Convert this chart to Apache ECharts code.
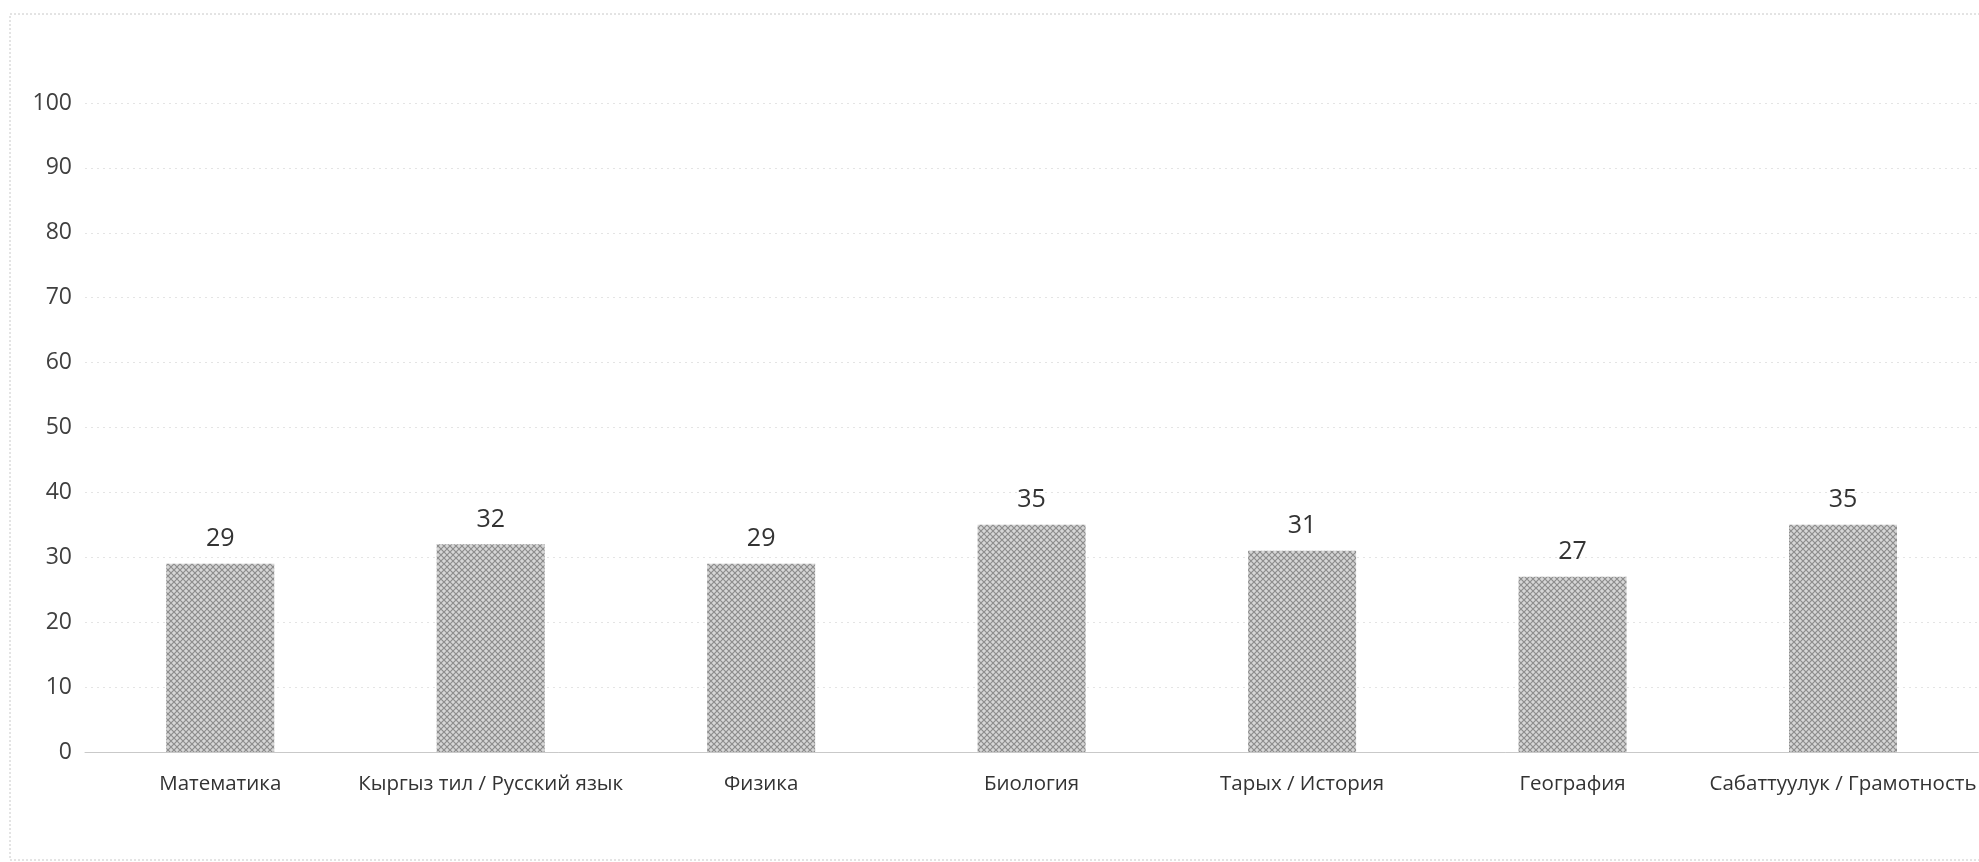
<!DOCTYPE html>
<html><head><meta charset="utf-8">
<script src="https://cdn.jsdelivr.net/npm/echarts@6/dist/echarts.min.js"></script>
<style>html,body{margin:0;padding:0;background:#fff}#c{width:1979px;height:862px}</style>
</head><body><div id="c"></div>
<script>
const categories = ['Математика','Кыргыз тил / Русский язык','Физика','Биология','Тарых / История','География','Сабаттуулук / Грамотность'];
const values = [29, 32, 29, 35, 31, 27, 35];
const yTicks = [0,10,20,30,40,50,60,70,80,90,100];

function makePattern(){
  const c = document.createElement('canvas');
  c.width = 6; c.height = 6;
  const g = c.getContext('2d');
  g.fillStyle = '#d6d6d6'; g.fillRect(0,0,6,6);
  g.strokeStyle = '#8c8c8c'; g.lineWidth = 1.2;
  g.beginPath();
  g.moveTo(0,0); g.lineTo(6,6);
  g.moveTo(6,0); g.lineTo(0,6);
  g.stroke();
  return c;
}

const chart = echarts.init(document.getElementById('c'));
const font = '"Open Sans", "Noto Sans", sans-serif';
chart.setOption({
  backgroundColor:'#ffffff',
  animation:false,
  graphic:[{type:'rect', shape:{x:10,y:14,width:2000,height:846}, style:{fill:'none', stroke:'#c8c8c8', lineWidth:1, lineDash:[2,2]}, silent:true}],
  grid:{left:85, right:-6, top:103, bottom:110},
  xAxis:{type:'category', data:categories,
    axisLine:{show:true, lineStyle:{color:'#c9c9c9', width:1}},
    axisTick:{show:false},
    axisLabel:{interval:0, color:'#333333', fontSize:20.5, fontFamily:font, margin:22}},
  yAxis:{type:'value', min:yTicks[0], max:yTicks[yTicks.length-1], interval:10,
    axisLine:{show:false}, axisTick:{show:false},
    axisLabel:{color:'#404040', fontSize:23, fontFamily:font, margin:13}},
  series:[{type:'bar', data:values, barWidth:108,
    itemStyle:{color:{image:makePattern(), repeat:'repeat'}},
    label:{show:true, position:'top', distance:12, color:'#333333', fontSize:25, fontFamily:font}}]
});
chart.setOption({yAxis:{splitLine:{show:true, lineStyle:{color:'#e4e4e4', type:[2,4], width:1}}}});
</script></body></html>
